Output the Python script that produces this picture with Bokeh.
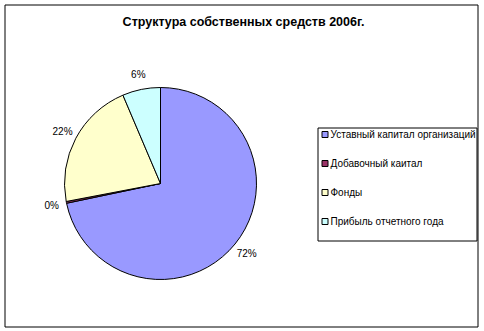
import math
from bokeh.plotting import figure
from bokeh.models import Range1d, ColumnDataSource
from bokeh.core.properties import value
from bokeh.embed import file_html
from bokeh.resources import INLINE

title = "Структура собственных средств 2006г."
categories = ["Уставный капитал организаций", "Добавочный каитал", "Фонды", "Прибыль  отчетного года"]
shares = [71.7, 0.3, 21.6, 6.4]
labels = ["72%", "0%", "22%", "6%"]
colors = ["#9999FF", "#993366", "#FFFFCC", "#CCFFFF"]

W, H = 484, 331
FONT = "Liberation Sans"

p = figure(width=W, height=H, output_backend="svg", toolbar_location=None,
           x_range=Range1d(0, W), y_range=Range1d(0, H), min_border=0)
p.axis.visible = False
p.grid.visible = False
p.outline_line_color = None
p.background_fill_color = "white"
p.border_fill_color = "white"

def Y(py):
    return H - py

# outer border
p.quad(left=[4.5], right=[477.5], top=[Y(4.5)], bottom=[Y(326.5)],
       fill_color=None, line_color="black", line_width=1)

# title
p.text(x=[243], y=[Y(21)], text=[title], text_font=value(FONT), text_font_size="12.5px",
       text_font_style="bold", text_align="center", text_baseline="middle", text_color="black")

# pie
cx, cy, r = 160, Y(183), 96
total = sum(shares)
starts, ends, mids = [], [], []
cum = 0.0
for s in shares:
    a0 = math.pi / 2 - 2 * math.pi * cum / total
    cum += s
    a1 = math.pi / 2 - 2 * math.pi * cum / total
    starts.append(a0)
    ends.append(a1)
    mids.append((a0 + a1) / 2)

src = ColumnDataSource(dict(start=starts, end=ends, color=colors, cat=categories))
p.wedge(x=cx, y=cy, radius=r, start_angle="start", end_angle="end", direction="clock",
        fill_color="color", line_color="black", line_width=1, source=src)

lr = 111
lx = [cx + lr * math.cos(m) for m in mids]
ly = [cy + lr * math.sin(m) for m in mids]
p.text(x=lx, y=ly, text=labels, text_font=value(FONT), text_font_size="10px",
       text_align="center", text_baseline="middle", text_color="black")

# legend
box_l, box_r, box_t, box_b = 317.5, 476.5, 127.5, 240.5
p.quad(left=[box_l], right=[box_r], top=[Y(box_t)], bottom=[Y(box_b)],
       fill_color="white", line_color="black", line_width=1)
row_y = [Y(134 + 29 * i) for i in range(len(categories))]
p.rect(x=[324.5] * len(categories), y=row_y, width=6, height=6,
       fill_color=colors, line_color="black", line_width=1)
p.text(x=[330] * len(categories), y=row_y, text=categories, text_font=value(FONT),
       text_font_size="10px", text_align="left", text_baseline="middle", text_color="black")

open("out.html", "w").write(file_html(p, INLINE))
